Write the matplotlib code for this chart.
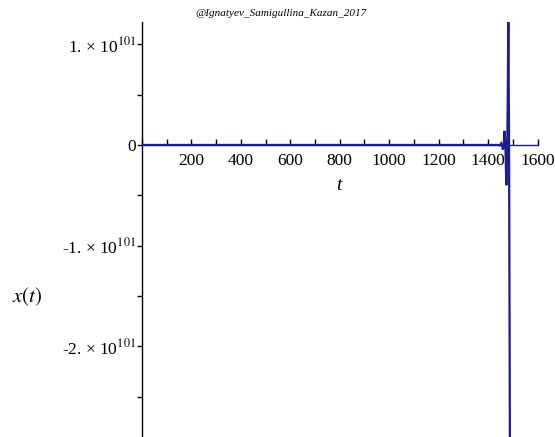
import matplotlib
matplotlib.use("Agg")
import matplotlib.pyplot as plt
from matplotlib.ticker import MultipleLocator, FixedLocator

plt.rcParams['font.family'] = ['Liberation Serif', 'DejaVu Serif']
plt.rcParams['mathtext.fontset'] = 'stix'

# data (x values in units of 1e101)
t_vals = [0, 1435, 1442, 1446, 1449, 1453, 1456, 1460, 1463, 1467, 1470, 1474, 1478, 1482, 1485, 1489]
x_vals = [0, 0, 0, -0.005, 0, 0.016, 0, -0.045, 0, 0.14, 0, -0.40, 0, 1.23, 0, -3.6]
scale = 1e101
x_major = [200, 400, 600, 800, 1000, 1200, 1400, 1600]
y_major = [1e101, 0, -1e101, -2e101]
y_labels = ['1. × 10$^{101}$', '0', '-1. × 10$^{101}$', '-2. × 10$^{101}$']

fig = plt.figure(figsize=(5.55, 4.37), dpi=100)
ax = fig.add_axes([142/555, 0, (537.5-142)/555, 1 - 21.7/437])

ax.plot(t_vals, [v * scale for v in x_vals], color='#1c1c8f', lw=1.6, solid_joinstyle='miter', zorder=3)

ax.set_xlim(0, 1600)
ax.set_ylim(-2.9e101, 1.224e101)

for s in ['top', 'right']:
    ax.spines[s].set_visible(False)
ax.spines['bottom'].set_position(('data', 0))
ax.spines['bottom'].set_color('#1c1c8f')
ax.spines['left'].set_linewidth(1.0)
ax.spines['bottom'].set_linewidth(1.0)

ax.xaxis.set_major_locator(FixedLocator(x_major))
ax.xaxis.set_minor_locator(MultipleLocator(100))
ax.set_xticklabels([str(v) for v in x_major])
ax.yaxis.set_major_locator(FixedLocator(y_major))
ax.yaxis.set_minor_locator(MultipleLocator(0.5e101))
ax.set_yticklabels(y_labels)

ax.tick_params(axis='x', which='both', direction='in', length=4, width=1, pad=6, labelsize=12.5)
ax.tick_params(axis='y', which='both', direction='out', length=3.5, width=1, pad=1, labelsize=12.5)
ax.yaxis.get_offset_text().set_visible(False)

fig.text(339/555, 1 - 186/437, 't', style='italic', fontsize=14, ha='center', va='center')
fig.text(27/555, 1 - 297/437, r'$x(t)$', fontsize=15, ha='center', va='center')
fig.text(281/555, 1 - 14/437, '@Ignatyev_Samigullina_Kazan_2017', style='italic', fontsize=8, ha='center', va='center')

fig.savefig('out.png', dpi=100)
